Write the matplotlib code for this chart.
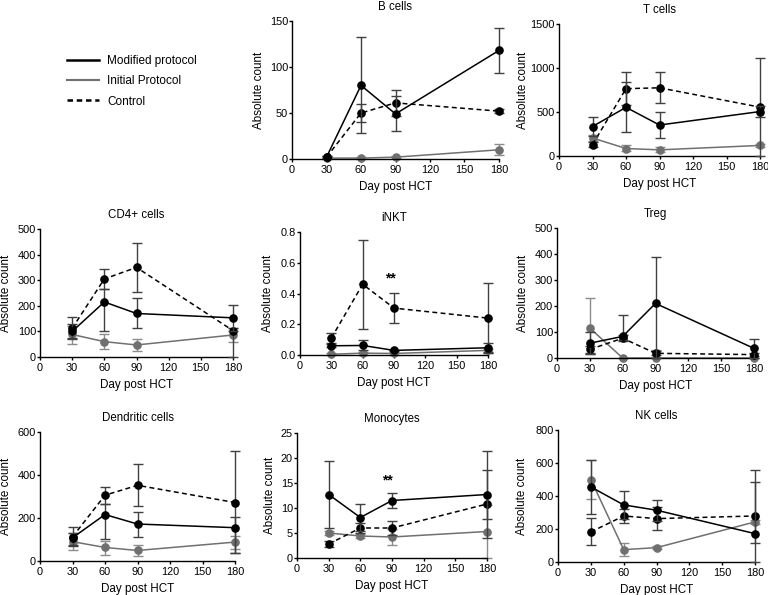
import matplotlib
matplotlib.use("Agg")
import matplotlib.pyplot as plt
from matplotlib.lines import Line2D
import numpy as np

plt.rcParams['font.family'] = ['Liberation Sans', 'DejaVu Sans']
plt.rcParams['font.size'] = 8

days = [30, 60, 90, 180]
xticks = [0, 30, 60, 90, 120, 150, 180]
series_labels = ["Modified protocol", "Initial Protocol", "Control"]

# ---- B cells ----
b_mod = [2, 80, 49, 118]; b_mod_lo = [1, 28, 30, 93]; b_mod_hi = [3, 133, 68, 142]
b_ctl = [2, 50, 61, 52]; b_ctl_lo = [1, 40, 47, 50]; b_ctl_hi = [3, 60, 75, 54]
b_ini = [1, 1, 2, 10]; b_ini_lo = [0, 0, 1, 4]; b_ini_hi = [2, 2, 3, 16]
b_yticks = [0, 50, 100, 150]

# ---- T cells ----
t_mod = [335, 553, 352, 505]; t_mod_lo = [230, 270, 208, 445]; t_mod_hi = [440, 845, 496, 565]
t_ctl = [130, 765, 775, 555]; t_ctl_lo = [100, 580, 598, 0]; t_ctl_hi = [160, 955, 955, 1110]
t_ini = [205, 85, 70, 120]; t_ini_lo = [165, 55, 45, 100]; t_ini_hi = [240, 120, 100, 140]
t_yticks = [0, 500, 1000, 1500]

# ---- CD4+ cells ----
c_mod = [100, 215, 170, 153]; c_mod_lo = [70, 100, 113, 100]; c_mod_hi = [130, 265, 230, 205]
c_ctl = [112, 305, 350, 103]; c_ctl_lo = [75, 265, 255, 0]; c_ctl_hi = [155, 345, 445, 115]
c_ini = [88, 60, 47, 86]; c_ini_lo = [50, 30, 23, 57]; c_ini_hi = [120, 90, 72, 115]
c_yticks = [0, 100, 200, 300, 400, 500]

# ---- iNKT ----
n_mod = [0.06, 0.062, 0.03, 0.047]; n_mod_lo = [0.05, 0.03, 0.025, 0.02]; n_mod_hi = [0.07, 0.10, 0.035, 0.075]
n_ctl = [0.11, 0.46, 0.305, 0.24]; n_ctl_lo = [0.08, 0.17, 0.205, 0.01]; n_ctl_hi = [0.14, 0.75, 0.405, 0.47]
n_ini = [0.005, 0.012, 0.01, 0.03]; n_ini_lo = [0, 0, 0, 0.01]; n_ini_hi = [0.01, 0.02, 0.02, 0.04]
n_yticks = [0.0, 0.2, 0.4, 0.6, 0.8]

# ---- Treg ----
r_mod = [57, 83, 210, 37]; r_mod_lo = [15, 70, 0, 0]; r_mod_hi = [100, 165, 387, 72]
r_ctl = [33, 76, 18, 13]; r_ctl_lo = [18, 65, 10, 8]; r_ctl_hi = [48, 88, 26, 18]
r_ini = [115, 0, 0, 0]; r_ini_lo = [15, 0, 0, 0]; r_ini_hi = [230, 0, 30, 0]
r_yticks = [0, 100, 200, 300, 400, 500]

# ---- Dendritic cells ----
d_mod = [108, 216, 172, 155]; d_mod_lo = [70, 102, 113, 36]; d_mod_hi = [130, 263, 230, 205]
d_ctl = [112, 306, 352, 272]; d_ctl_lo = [75, 265, 257, 35]; d_ctl_hi = [158, 345, 450, 512]
d_ini = [90, 63, 49, 88]; d_ini_lo = [50, 30, 25, 55]; d_ini_hi = [130, 95, 75, 115]
d_yticks = [0, 200, 400, 600]

# ---- Monocytes ----
m_mod = [12.7, 8.1, 11.5, 12.7]; m_mod_lo = [6, 5.5, 10, 4]; m_mod_hi = [19.5, 10.8, 13, 21.4]
m_ctl = [2.8, 6.0, 6.0, 10.8]; m_ctl_lo = [2.2, 5.0, 4.7, 7.8]; m_ctl_hi = [3.5, 7.0, 7.4, 17.6]
m_ini = [5.0, 4.4, 4.2, 5.3]; m_ini_lo = [4.6, 4.0, 2.6, 0]; m_ini_hi = [5.4, 4.8, 5.8, 10.6]
m_yticks = [0, 5, 10, 15, 20, 25]

# ---- NK cells ----
k_mod = [455, 346, 314, 172]; k_mod_lo = [290, 260, 250, 115]; k_mod_hi = [620, 431, 378, 486]
k_ctl = [182, 279, 263, 279]; k_ctl_lo = [105, 239, 192, 0]; k_ctl_hi = [267, 320, 335, 557]
k_ini = [500, 75, 87, 243]; k_ini_lo = [383, 35, 80, 230]; k_ini_hi = [620, 115, 95, 255]
k_yticks = [0, 200, 400, 600, 800]

W, H = 768, 595
fig = plt.figure(figsize=(W / 100, H / 100), dpi=100)

BLACK = '#000000'
GRAY = '#707070'
EBLACK = '#404040'
EGRAY = '#8c8c8c'


def make_ax(x0, x1, ytop, ybot, ylab_x):
    ax = fig.add_axes([x0 / W, 1 - ybot / H, (x1 - x0) / W, (ybot - ytop) / H])
    ax._px = (x0, x1, ytop, ybot, ylab_x)
    return ax


def draw(ax, title, mod, mlo, mhi, ini, ilo, ihi, ctl, clo, chi, yticks, fmt=None, stars=None):
    x0, x1, ytop, ybot, ylab_x = ax._px

    def eb(y, lo, hi, color, ecolor, ls, z):
        y = np.array(y, float)
        lo = np.array(lo, float)
        hi = np.array(hi, float)
        err = [np.clip(y - lo, 0, None), np.clip(hi - y, 0, None)]
        c = ax.errorbar(days, y, yerr=err, color=color, ecolor=ecolor, ls=ls,
                        lw=1.1, marker='o', ms=5.2, mfc=color, mec=color,
                        capsize=3.5, elinewidth=1.0, capthick=1.0, zorder=z)
        c.lines[0].set_clip_on(False)
        for art in c.lines[1]:
            art.set_clip_on(False)
        for art in c.lines[2]:
            art.set_clip_on(False)
        if ls == '--':
            c.lines[0].set_dashes((3.2, 2.2))
    eb(ini, ilo, ihi, GRAY, EGRAY, '-', 2)
    eb(ctl, clo, chi, BLACK, EBLACK, '--', 3)
    eb(mod, mlo, mhi, BLACK, EBLACK, '-', 4)
    ax.set_xlim(0, 180)
    ax.set_ylim(yticks[0], yticks[-1])
    ax.set_xticks(xticks)
    ax.set_yticks(yticks)
    if fmt:
        ax.set_yticklabels([fmt.format(v) for v in yticks])
    for s in ['top', 'right']:
        ax.spines[s].set_visible(False)
    for s in ['left', 'bottom']:
        ax.spines[s].set_linewidth(1.0)
    ax.tick_params(direction='out', length=2.0, width=1.0, labelsize=7.9)
    ax.tick_params(axis='y', pad=0.8)
    ax.tick_params(axis='x', pad=2.0)
    ax.set_title(title, fontsize=8.3, pad=8)
    ax.set_xlabel("Day post HCT", fontsize=8.4)
    ax.set_ylabel("Absolute count", fontsize=8.4)
    w = x1 - x0
    h = ybot - ytop
    ax.xaxis.set_label_coords(0.5, -28.0 / h)
    ax.xaxis.label.set_verticalalignment('center')
    ax.yaxis.set_label_coords((ylab_x - x0) / w, 0.5)
    ax.yaxis.label.set_verticalalignment('center')
    if stars:
        ax.text(stars[0], stars[1], "**", ha='center', va='center', fontsize=10, fontweight='bold')


ax = make_ax(292, 499, 21, 159, 259)
draw(ax, "B cells", b_mod, b_mod_lo, b_mod_hi, b_ini, b_ini_lo, b_ini_hi, b_ctl, b_ctl_lo, b_ctl_hi, b_yticks)
ax = make_ax(559, 760, 24, 156, 523)
draw(ax, "T cells", t_mod, t_mod_lo, t_mod_hi, t_ini, t_ini_lo, t_ini_hi, t_ctl, t_ctl_lo, t_ctl_hi, t_yticks)
ax = make_ax(40, 233, 229, 357, 6)
draw(ax, "CD4+ cells", c_mod, c_mod_lo, c_mod_hi, c_ini, c_ini_lo, c_ini_hi, c_ctl, c_ctl_lo, c_ctl_hi, c_yticks)
ax = make_ax(300, 488, 232, 355, 268)
draw(ax, "iNKT", n_mod, n_mod_lo, n_mod_hi, n_ini, n_ini_lo, n_ini_hi, n_ctl, n_ctl_lo, n_ctl_hi, n_yticks,
     fmt="{:.1f}", stars=(87, 0.5))
ax = make_ax(557, 754, 228, 358, 523)
draw(ax, "Treg", r_mod, r_mod_lo, r_mod_hi, r_ini, r_ini_lo, r_ini_hi, r_ctl, r_ctl_lo, r_ctl_hi, r_yticks)
ax = make_ax(40, 235, 432, 561, 6)
draw(ax, "Dendritic cells", d_mod, d_mod_lo, d_mod_hi, d_ini, d_ini_lo, d_ini_hi, d_ctl, d_ctl_lo, d_ctl_hi, d_yticks)
ax = make_ax(297, 487, 433, 558, 270)
draw(ax, "Monocytes", m_mod, m_mod_lo, m_mod_hi, m_ini, m_ini_lo, m_ini_hi, m_ctl, m_ctl_lo, m_ctl_hi, m_yticks,
     stars=(86, 15.6))
ax = make_ax(558, 755, 430, 562, 522)
draw(ax, "NK cells", k_mod, k_mod_lo, k_mod_hi, k_ini, k_ini_lo, k_ini_hi, k_ctl, k_ctl_lo, k_ctl_hi, k_yticks)

handles = [Line2D([], [], color=BLACK, lw=1.8),
           Line2D([], [], color=GRAY, lw=1.5),
           Line2D([], [], color=BLACK, lw=1.8, ls=(0, (2.2, 1.5)))]
fig.legend(handles, series_labels, loc='upper left', bbox_to_anchor=(67 / W, 1 - 55 / H),
           frameon=False, fontsize=8.5, handlelength=2.7, handletextpad=0.7, labelspacing=0.7,
           borderpad=0, borderaxespad=0)

fig.savefig("out.png", dpi=100)
